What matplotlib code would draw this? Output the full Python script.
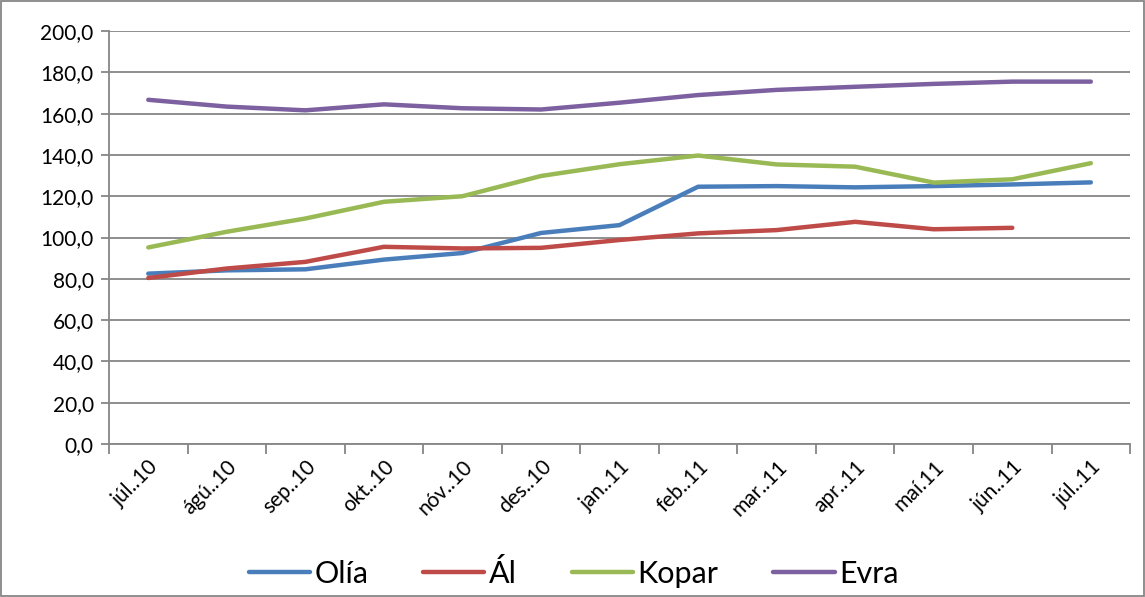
import numpy as np
import matplotlib.pyplot as plt
from matplotlib.patches import Rectangle

months = ['júl..10', 'ágú..10', 'sep..10', 'okt..10', 'nóv..10', 'des..10',
          'jan..11', 'feb..11', 'mar..11', 'apr..11', 'maí.11', 'jún..11', 'júl..11']

olia = [82.5, 84.1, 84.6, 89.3, 92.5, 102.2, 106.0, 124.6, 124.9, 124.3, 124.9, 125.7, 126.7]
al = [80.4, 85.0, 88.2, 95.5, 94.7, 95.0, 98.8, 102.0, 103.6, 107.6, 104.0, 104.7, np.nan]
kopar = [95.2, 102.8, 109.2, 117.3, 120.0, 129.8, 135.5, 139.7, 135.4, 134.3, 126.6, 128.2, 136.0]
evra = [166.7, 163.4, 161.6, 164.5, 162.6, 162.0, 165.3, 169.0, 171.5, 173.0, 174.4, 175.5, 175.5]

series = [('Olía', olia, '#4A7EBB'), ('Ál', al, '#BE4B48'),
          ('Kopar', kopar, '#98B954'), ('Evra', evra, '#7D60A0')]

plt.rcParams['font.family'] = ['Lato', 'DejaVu Sans']

fig = plt.figure(figsize=(11.45, 5.97), dpi=100)
ax = fig.add_axes([0.0952, 0.2563, 0.8918, 0.6917])

x = np.arange(len(months))
for name, vals, col in series:
    ax.plot(x, vals, color=col, lw=3.2, label=name, solid_capstyle='round')

ax.set_ylim(0, 200)
ax.set_yticks(np.arange(0, 201, 20))
ax.set_yticklabels([f'{v:.1f}'.replace('.', ',') for v in np.arange(0, 201, 20)], fontsize=15)
ax.yaxis.grid(True, color='#868686', lw=1.3)
ax.set_axisbelow(True)

ax.set_xlim(-0.5, len(months) - 0.5)
ax.set_xticks(x)
ax.set_xticklabels(months, rotation=45, ha='right', rotation_mode='anchor', fontsize=15)
ax.tick_params(axis='x', which='major', length=0, pad=9)
ax.set_xticks(np.arange(-0.5, len(months), 1), minor=True)
ax.tick_params(axis='x', which='minor', length=7, color='#868686', width=1.3, direction='out')
ax.tick_params(axis='y', length=6, color='#868686', width=1.3, direction='out', pad=5)

for s in ['top', 'right']:
    ax.spines[s].set_visible(False)
for s in ['left', 'bottom']:
    ax.spines[s].set_color('#868686')
    ax.spines[s].set_linewidth(1.3)

ax.legend(loc='lower center', bbox_to_anchor=(0.455, -0.415), ncol=4, frameon=False,
          fontsize=22, handlelength=2.0, columnspacing=1.8, handletextpad=0.15)

fig.patches.append(Rectangle((0.001, 0.001), 0.998, 0.998, transform=fig.transFigure,
                             fill=False, edgecolor='#868686', lw=1.3))

fig.savefig('out.png', dpi=100)
